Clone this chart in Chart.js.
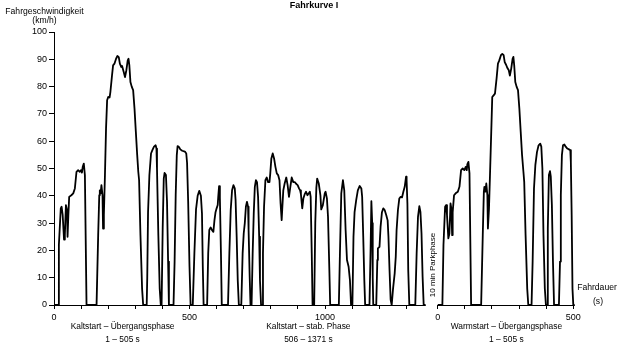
<!DOCTYPE html>
<html><head><meta charset="utf-8">
<script src="https://cdn.jsdelivr.net/npm/chart.js@4.4.0/dist/chart.umd.min.js"></script>
<style>html,body{margin:0;padding:0;background:#fff}#wrap{position:relative;width:623px;height:351px}</style>
</head><body><div id="wrap"><canvas id="c"></canvas></div>
<script>
// ---- Data (s, km/h) ----
const coldTime = [0,15,18,25,28,32,37,40,44,48,50,53,56,64,71,77,83,89,95,100,103,106,110,114,120,
157,163,167,169,172,175,179,181,184,188,192,196,200,205,208,214,218,223,229,234,239,243,248,251,257,262,267,272,275,278,282,287,292,297,302,307,311,314,319,325,329,
342,344,347,352,358,363,369,375,378,380,385,390,394,
397,401,405,408,413,417,421,424,
441,445,449,453,456,461,466,473,483,488,491,495,500,504,
512,518,524,530,536,542,546,549,552,
565,569,573,578,583,588,592,596,600,604,606,609,612,616,619,
642,647,652,657,662,667,670,674,678,682,
691,696,700,704,708,712,716,718,722,725,
729,733,737,741,745,749,753,757,760,764,
768,771,775,780,785,790,795,798,802,807,812,817,822,827,832,836,840,842,846,851,857,862,867,872,877,883,889,894,899,904,908,911,916,920,925,930,935,940,944,947,951,954,
960,964,968,971,977,983,986,992,999,1002,1007,1011,1016,1019,
1051,1055,1060,1066,1071,1076,1081,1087,1092,1096,
1101,1105,1109,1115,1121,1128,1134,1137,1141,1145,1148,
1164,1168,1171,1174,1176,1178,
1189,1193,1195,1201,1205,1210,1215,1220,1226,1231,1234,1238,1242,1246,
1251,1257,1261,1264,1269,1274,1279,1284,1289,1294,1299,1301,1304,1307,1311,
1333,1338,1343,1348,1352,1356,1360,1364,1371];
const coldSpeed = [0,0,22,35.4,36,33,24,25.6,36.6,34.8,25,33,39.6,40.2,40.9,42.7,48.8,49.4,48.8,49.4,48.5,50.6,51.8,47.6,0,
0,25.6,40.2,42,40.9,43.9,40.2,28,33,47.6,64.6,75,76.2,76,78,84,87.8,88.4,90.2,91.2,90.8,88.4,87.2,87.6,85.4,83.5,86,89.6,90.2,87.8,81.7,79.9,78.7,72,63.4,54.9,48.8,45.7,25.6,6,0,
0,9.8,34,47.6,55.5,56.7,58,58.5,57.3,50,25.6,6,0,
0,28,46.3,48.4,47.6,37.8,15.9,0,
0,15.9,40.2,54.9,58.2,57.9,57,56.5,56.2,55.5,52,38,14,0,
0,19,35,40,41.8,40,33.5,14,0,
0,19,27.5,28.4,27.4,26.8,31,34,35.4,36.6,39.6,43.5,39.6,18.9,0,
0,18.9,34.8,42,43.9,42.7,38.4,25,9,0,
0,18.9,26.2,30,36,37.8,36,27.4,10.4,0,
0,18.9,33.5,43.3,45.7,45,39.6,25,9,0,
0,18.9,36,45.7,46.7,45,45,48.2,53.7,55.5,53.7,50.6,48.2,47.6,45.7,37.2,31.1,34.8,42,44.5,46.7,43.9,39.6,43.3,46.7,45,45,44.3,43.9,42.7,42,40.6,35.4,39,40.6,41.5,40.2,40.9,41.5,39.6,18.9,0,
0,30,43,46.3,44.5,40.2,35,36.6,40.9,41.5,39,32.3,12.8,0,
0,18.9,40.9,45.7,42,27.4,16.5,14,9,0,
0,25,34,38.4,42,43.6,42.7,39.6,25,9,0,
0,20,38,30,10,0,
0,16.5,20.7,21.3,28.7,34,35.4,34.8,32.9,31,25,12.8,2,0,
6,11.6,17.7,27.4,34.8,39,39.6,39.4,41.5,43.3,47,45.7,37,12.8,0,
0,18.9,32.3,36.2,34.1,26.2,10.4,0,0];
const warmTime = [0,17,21,27,31,34,39,43,47,50,53,55,60,66,74,80,86,92,98,103,107,109,113,117,123,
160,166,170,172,176,179,183,185,189,193,198,201,206,211,217,222,227,233,238,243,247,252,257,262,266,271,276,279,282,286,291,296,301,306,311,316,319,324,330,334,
346,350,355,360,366,372,378,382,386,390,395,399,
403,406,410,414,417,421,425,429,
447,451,454,458,462,467,472,478,484,489,491,494,497,500,505];
const warmSpeed = [0,0,22,36,36.6,33,24.4,26.2,37.2,35.4,25.6,34,40.2,40.9,41.5,43.3,49.4,50,49.4,50.6,49.4,51.5,52.4,48.2,0,
0,25.6,41.5,43.3,41.5,44.5,40.2,28,35.4,48.8,65.8,76.2,76.8,77.4,83,88.4,89.6,91.5,92,91.5,89,88,86.8,86,84,86.6,90.2,90.9,87.8,81.7,79.9,78.7,72,63.4,54.9,48.8,45,25.6,6,0,
0,15.9,42.7,51.2,56,58.5,59.1,58,50,25.6,6,0,
0,28,47.6,49,47,36.6,15.9,0,
0,15.9,40.2,54.9,58.5,58.8,58,57.3,57,56.7,52.4,33,6,0,0];

// ---- Axis / labels ----
const coldEnd = 1371;
const warmOffset = 1416;          // horizontal gap for the 10 min parking phase
const warmEnd = 505;
const coldTicks = [0,100,200,300,400,500,600,700,800,900,1000,1100,1200,1300];
const warmTicks = [0,100,200,300,400,500];
const labelledTicks = [0,500,1000];
const yTicks = [0,10,20,30,40,50,60,70,80,90,100];
const phaseNames = ['Kaltstart – Übergangsphase','Kaltstart – stab. Phase','Warmstart – Übergangsphase'];
const phaseRanges = ['1 – 505 s','506 – 1371 s','1 – 505 s'];
const titleText = 'Fahrkurve I';
const yTitle = ['Fahrgeschwindigkeit','(km/h)'];
const xTitle = ['Fahrdauer','(s)'];
const parkText = '10 min Parkphase';

const FONT = '"Liberation Sans", Arial, Helvetica, sans-serif';
const pts = (ts, vs, off) => ts.map((t, i) => ({x: t + off, y: vs[i]}));

const tickLabelMap = new Map();
coldTicks.forEach(t => tickLabelMap.set(t, labelledTicks.includes(t) ? String(t) : ''));
warmTicks.forEach(t => tickLabelMap.set(t + warmOffset, labelledTicks.includes(t) ? String(t) : ''));

const decor = {
  id: 'decor',
  afterDraw(chart) {
    const {ctx, scales: {x, y}} = chart;
    ctx.save();
    const y0 = Math.round(y.getPixelForValue(0)) + 0.5;
    ctx.strokeStyle = '#000'; ctx.lineWidth = 1;
    ctx.beginPath();
    ctx.moveTo(x.getPixelForValue(0), y0); ctx.lineTo(x.getPixelForValue(coldEnd), y0);
    ctx.moveTo(x.getPixelForValue(warmOffset), y0); ctx.lineTo(x.getPixelForValue(warmOffset + warmEnd), y0);
    ctx.stroke();

    ctx.fillStyle = '#000';
    ctx.textAlign = 'center'; ctx.textBaseline = 'middle';
    ctx.font = 'bold 9px ' + FONT;
    ctx.fillText(titleText, 314, 6);
    ctx.font = '8.6px ' + FONT;
    ctx.fillText(yTitle[0], 44.5, 11.5);
    ctx.fillText(yTitle[1], 44.5, 21);
    ctx.fillText(xTitle[0], 597, 288);
    ctx.fillText(xTitle[1], 598, 302);
    ctx.font = '8.4px ' + FONT;
    const mids = [253, (506 + coldEnd) / 2, warmOffset + 253];
    mids.forEach((m, i) => {
      const px = x.getPixelForValue(m);
      ctx.fillText(phaseNames[i], px, 327);
      ctx.fillText(phaseRanges[i], px, 340);
    });
    ctx.font = '8px ' + FONT;
    ctx.translate(x.getPixelForValue((coldEnd + warmOffset) / 2) + 1, 265);
    ctx.rotate(-Math.PI / 2);
    ctx.fillText(parkText, 0, 0);
    ctx.restore();
  }
};

new Chart(document.getElementById('c'), {
  type: 'line',
  data: {
    datasets: [
      {label: 'Kaltstart', data: pts(coldTime, coldSpeed, 0)},
      {label: 'Warmstart', data: pts(warmTime, warmSpeed, warmOffset)}
    ].map(d => Object.assign(d, {borderColor: '#000', borderWidth: 1.8, pointRadius: 0, tension: 0, fill: false, clip: false, borderJoinStyle: 'round'}))
  },
  options: {
    responsive: true, maintainAspectRatio: false, animation: false,
    layout: {padding: {top: 32, right: 47, left: 0, bottom: 26}},
    plugins: {legend: {display: false}, tooltip: {enabled: false}, title: {display: false}},
    scales: {
      x: {
        type: 'linear', min: 0, max: warmOffset + warmEnd + 5,
        border: {display: false},
        grid: {drawOnChartArea: false, drawTicks: true, tickLength: 4, color: '#000', lineWidth: 1},
        afterBuildTicks: s => { s.ticks = [...tickLabelMap.keys()].map(v => ({value: v})); },
        afterFit: s => { s.height = 20; },
        ticks: {autoSkip: false, maxRotation: 0, padding: 3, color: '#000', font: {family: FONT, size: 9}},
      },
      y: {
        min: 0, max: 100,
        border: {display: true, color: '#000', width: 1},
        grid: {drawOnChartArea: false, drawTicks: true, tickLength: 5, color: '#000'},
        afterBuildTicks: s => { s.ticks = yTicks.map(v => ({value: v})); },
        afterFit: s => { s.width = 54; },
        ticks: {padding: 2, color: '#000', font: {family: FONT, size: 9}}
      }
    }
  },
  plugins: [decor]
});
// tick label text comes from tickLabelMap
Chart.getChart('c').options.scales.x.ticks.callback = v => tickLabelMap.get(v) ?? '';
Chart.getChart('c').update('none');
</script></body></html>
